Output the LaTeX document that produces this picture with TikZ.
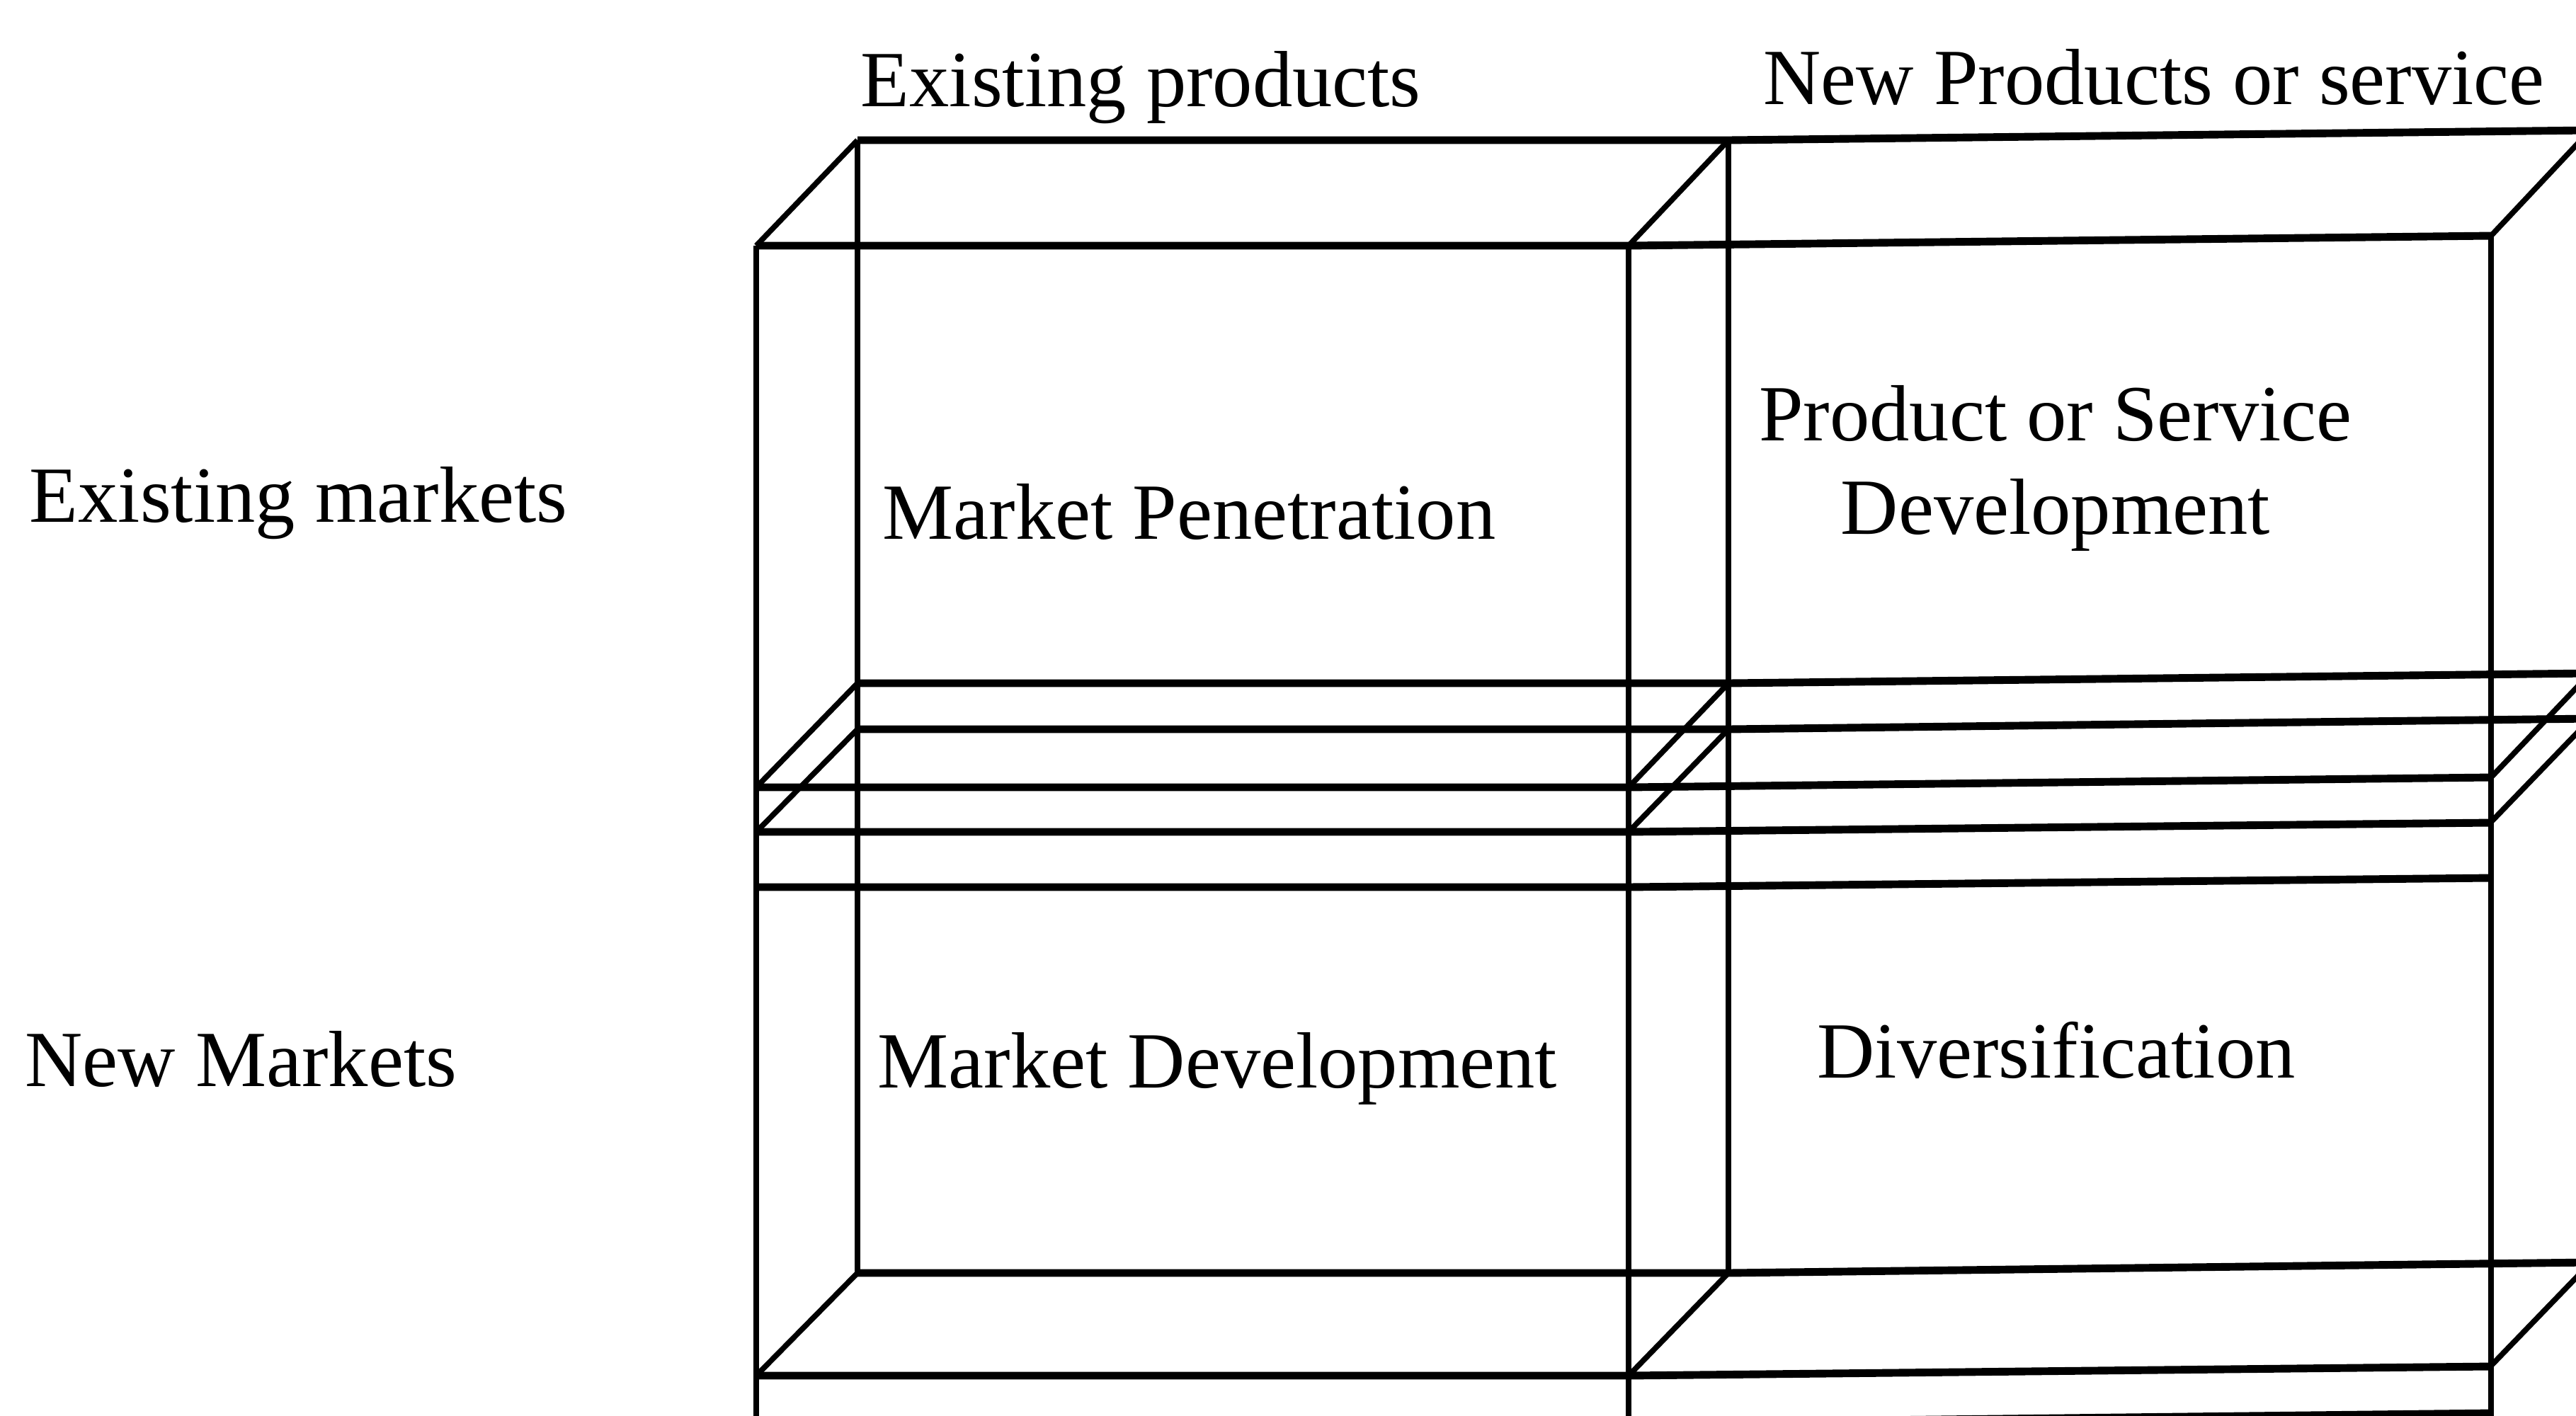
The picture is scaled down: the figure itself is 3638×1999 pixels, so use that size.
\documentclass[tikz,border=0pt]{standalone}
\usepackage{fontspec}
\setmainfont{Liberation Serif}

\begin{document}
\begin{tikzpicture}[
    x=0.01cm, y=-0.01cm,
    lbl/.style={font=\fontsize{32}{37.5}\selectfont, inner sep=0pt},
    rail/.style={line width=3.1pt},
    post/.style={line width=2.5pt},
    slant/.style={line width=2.2pt},
]

\useasboundingbox (0,0) rectangle (3638,1999);
\clip (0,0) rectangle (3638,1999);

% ===== Front face edges (right column sags slightly upward) =====
\foreach \y/\d in {347/14, 1112/14, 1175/13, 1253/13, 1943/13, 2010/14}
  \draw[rail] (1068,\y) -- (2300,\y) -- (3518,\y-\d);

% ===== Back face edges =====
\foreach \y/\d in {198/14, 965/14, 1030/15, 1798/15}
  \draw[rail] (1211,\y) -- (2441,\y) -- (3658,\y-\d);

% ===== Uprights =====
\foreach \x/\t in {1068/347, 2300/347, 3518/333}
  \draw[post] (\x,\t) -- (\x,2010);
\foreach \x/\t/\b in {1211/198/1798, 2441/198/1798, 3658/184/1783}
  \draw[post] (\x,\t) -- (\x,\b);

% ===== Receding edges, front corner to back corner =====
\foreach \f/\b in {347/198, 1112/965, 1175/1030, 1943/1798}{
  \draw[slant] (1068,\f) -- (1211,\b);
  \draw[slant] (2300,\f) -- (2441,\b);
  \draw[slant] (3518,\f-14) -- (3658,\b-14);
}

% ===== Column and row headings =====
\node[lbl, anchor=base west] (exprod) at (1215,150) {Existing products};
\node[lbl, anchor=base west] (newprod) at (2490,147) {New Products or service};
\node[lbl, anchor=base west] (exmkt) at (41,737) {Existing markets};
\node[lbl, anchor=base west] (newmkt) at (35,1534) {New Markets};

% ===== Cells =====
\node[lbl, anchor=base west] (pen) at (1246,761) {Market Penetration};
% base of a two-line node sits on its last line
\node[lbl, align=center, anchor=base] (proddev) at (2903,754)
  {Product or Service\\Development};
\node[lbl, anchor=base west] (mktdev) at (1239,1536) {Market Development};
\node[lbl, anchor=base] (divers) at (2904,1522) {Diversification};

\end{tikzpicture}
\end{document}
